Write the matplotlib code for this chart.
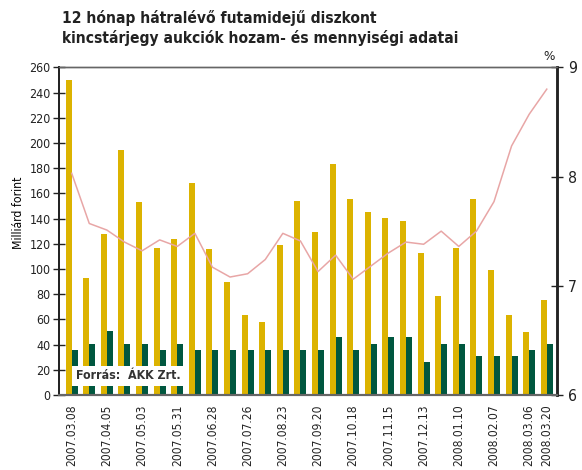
import matplotlib
matplotlib.use("Agg")
import matplotlib.pyplot as plt
from matplotlib import font_manager
import numpy as np

fonts = font_manager.fontManager.ttflist
narrow = [f for f in fonts if f.name == 'Liberation Sans Narrow']
cond = [f for f in fonts if f.name == 'DejaVu Sans' and f.stretch in ('condensed', 'semi-condensed', 600, 500)]
if narrow:
    plt.rcParams['font.family'] = ['Liberation Sans Narrow', 'DejaVu Sans']
elif cond:
    plt.rcParams['font.family'] = ['DejaVu Sans']
    plt.rcParams['font.stretch'] = 'condensed'
else:
    plt.rcParams['font.family'] = ['DejaVu Sans']

dates = ["2007.03.08", "2007.03.22", "2007.04.05", "2007.04.19", "2007.05.03", "2007.05.17",
         "2007.05.31", "2007.06.14", "2007.06.28", "2007.07.12", "2007.07.26", "2007.08.09",
         "2007.08.23", "2007.09.06", "2007.09.20", "2007.10.04", "2007.10.18", "2007.11.01",
         "2007.11.15", "2007.11.29", "2007.12.13", "2007.12.27", "2008.01.10", "2008.01.24",
         "2008.02.07", "2008.02.21", "2008.03.06", "2008.03.20"]
tick_labels = ["2007.03.08", "2007.04.05", "2007.05.03", "2007.05.31", "2007.06.28",
               "2007.07.26", "2007.08.23", "2007.09.20", "2007.10.18", "2007.11.15",
               "2007.12.13", "2008.01.10", "2008.02.07", "2008.03.06", "2008.03.20"]

offered = [250, 93, 128, 194, 153, 117, 124, 168, 116, 90, 63.5, 58, 119, 154,
           129, 183, 155.5, 145, 140.5, 138, 112.5, 78.5, 116.5, 155.5, 99, 63.5, 50, 75.5]
accepted = [36, 40.5, 51, 40.5, 40.5, 36, 40.5, 36, 36, 36, 36, 36, 36, 36,
            36, 46, 36, 40.5, 46, 46, 26, 40.5, 40.5, 31, 31, 31, 36, 40.5]
yield_pct = [8.03, 7.57, 7.51, 7.40, 7.32, 7.42, 7.36, 7.48, 7.17, 7.08, 7.11, 7.24, 7.48, 7.41,
             7.13, 7.28, 7.06, 7.18, 7.30, 7.40, 7.38, 7.50, 7.36, 7.50, 7.77, 8.28, 8.57, 8.80]

yellow = "#dcb300"
green = "#00573f"
pink = "#e8a6a6"

fig = plt.figure(figsize=(5.82, 4.70), dpi=100)
renderer = fig.canvas.get_renderer()


def fit_size(text, target_px, weight='normal', base=12.0):
    t = fig.text(0, 0, text, fontsize=base, fontweight=weight)
    wpx = t.get_window_extent(renderer=renderer).width
    t.remove()
    return base * target_px / wpx


fs_title = fit_size("kincstárjegy aukciók hozam- és mennyiségi adatai", 395, 'bold')
fs_xt = fit_size("2007.03.08", 61)
fs_yt = fit_size("260", 21)
fs_rt = fit_size("9", 9)
fs_src = fit_size("Forrás:  ÁKK Zrt.", 105, 'bold')
fs_ylab = fit_size("Milliárd forint", 72)

ax = fig.add_axes([0.1014, 0.1596, 0.8556, 0.6972])
x = np.arange(len(dates))
w = 0.34
ax.bar(x - w / 2, offered, width=w, color=yellow, zorder=2)
ax.bar(x + w / 2, accepted, width=w, color=green, zorder=2)
ax.set_xlim(-0.72, len(dates) - 1 + 0.58)
ax.set_ylim(0, 260)
ax.set_yticks(np.arange(0, 261, 20))
ax.tick_params(axis='y', direction='inout', length=8, width=1, labelsize=fs_yt, pad=2, colors='#222222')
tick_pos = [dates.index(d) for d in tick_labels]
ax.set_xticks(tick_pos)
ax.set_xticklabels(tick_labels, rotation=90, fontsize=fs_xt, color='#222222')
ax.tick_params(axis='x', length=0, pad=7)
ax.set_ylabel("Milliárd forint", fontsize=fs_ylab)
ax.yaxis.set_label_coords(-0.068, 0.555)

ax2 = ax.twinx()
ax2.plot(x, yield_pct, color=pink, lw=1.1, zorder=3)
ax2.set_ylim(6, 9)
ax2.set_yticks([6, 7, 8, 9])
ax2.tick_params(axis='y', direction='inout', length=8, width=1, labelsize=fs_rt, pad=4, colors='#222222')
ax2.text(0.985, 1.012, "%", transform=ax2.transAxes, ha='center', va='bottom', fontsize=fs_rt * 0.85, color='#222222')

for a in (ax, ax2):
    a.spines['top'].set_color('#666666')
    a.spines['top'].set_linewidth(1.0)
    a.spines['bottom'].set_color('#666666')
    a.spines['bottom'].set_linewidth(1.5)
    a.spines['left'].set_color('#222222')
    a.spines['left'].set_linewidth(1.3)
    a.spines['right'].set_color('#222222')
    a.spines['right'].set_linewidth(1.8)

ax2.text(0.034, 0.058, "Forrás:  ÁKK Zrt.", transform=ax2.transAxes, ha='left', va='center',
         fontsize=fs_src, fontweight='bold', color='#333333', zorder=5,
         bbox=dict(boxstyle='square,pad=0.3', facecolor='white', edgecolor='none'))

fig.text(0.107, 0.978, "12 hónap hátralévő futamidejű diszkont\nkincstárjegy aukciók hozam- és mennyiségi adatai",
         ha='left', va='top', fontsize=fs_title, fontweight='bold', color='#222222', linespacing=1.3)

fig.savefig("out.png", dpi=100)
